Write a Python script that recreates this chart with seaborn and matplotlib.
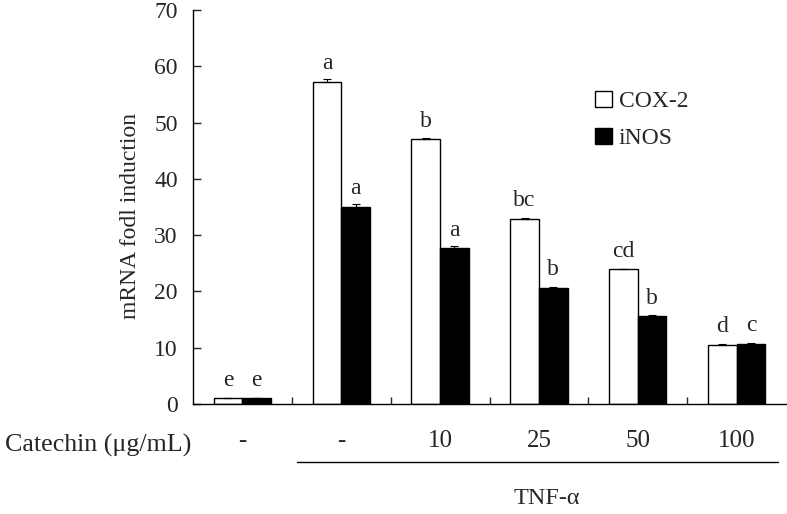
import numpy as np
import pandas as pd
import matplotlib
matplotlib.use("Agg")
import matplotlib.pyplot as plt
import seaborn as sns
from matplotlib.lines import Line2D

# --- Datos ---
groups = [0, 1, 2, 3, 4, 5]
dose_labels = ["-", "-", "10", "25", "50", "100"]
cox2 = [1.0, 57.2, 47.0, 32.9, 23.9, 10.5]
inos = [1.0, 35.0, 27.7, 20.6, 15.6, 10.7]
cox2_err = [0.1, 0.5, 0.2, 0.1, 0.1, 0.1]
inos_err = [0.1, 0.5, 0.4, 0.2, 0.2, 0.1]
cox2_letters = ["e", "a", "b", "bc", "cd", "d"]
inos_letters = ["e", "a", "a", "b", "b", "c"]
genes = ["COX-2", "iNOS"]

df = pd.DataFrame({
    "group": groups * 2,
    "gene": [genes[0]] * 6 + [genes[1]] * 6,
    "value": cox2 + inos,
})

sns.set_style("ticks")
plt.rcParams["font.family"] = ["Liberation Serif", "DejaVu Serif"]
plt.rcParams["font.size"] = 17

fig = plt.figure(figsize=(7.87, 5.14), dpi=100)
ax = fig.add_axes([193 / 787, 1 - 404 / 514, 593 / 787, 394 / 514])

sns.barplot(data=df, x="group", y="value", hue="gene", hue_order=genes,
            palette={"COX-2": "white", "iNOS": "black"}, edgecolor="black",
            linewidth=1.0, width=0.58, gap=0, errorbar=None, ax=ax)

# barras de error y letras
errs = [cox2_err, inos_err]
letters = [cox2_letters, inos_letters]
bar_sets = list(ax.containers)
for k, cont in enumerate(bar_sets):
    xs = [b.get_x() + b.get_width() / 2 for b in cont]
    hs = [b.get_height() for b in cont]
    ax.errorbar(xs, hs, yerr=[np.zeros(len(hs)), errs[k]], fmt="none",
                ecolor="black", elinewidth=0.8, capsize=2.8, capthick=0.8)
    for x, h, lab in zip(xs, hs, letters[k]):
        ax.annotate(lab, (x, h), xytext=(0, 13), textcoords="offset points",
                    ha="center", va="center", fontsize=17)

ax.set_xlim(-0.5, 5.5)
ax.set_ylim(0, 70)
ax.set_yticks(range(0, 71, 10))
ax.set_xticks(groups)
ax.set_xticklabels(dose_labels, fontsize=18)
ax.set_xticks([0.5, 1.5, 2.5, 3.5, 4.5], minor=True)
ax.tick_params(axis="x", which="major", length=0, pad=19)
ax.tick_params(axis="x", which="minor", direction="in", length=5, width=1)
ax.tick_params(axis="y", direction="in", length=6, width=1, pad=11, labelsize=17)
ax.set_xlabel("")
ax.set_ylabel("mRNA fodl induction", fontsize=17)
ax.yaxis.set_label_coords(-0.088, 0.477)
for s in ["top", "right"]:
    ax.spines[s].set_visible(False)
for s in ["left", "bottom"]:
    ax.spines[s].set_linewidth(1.0)
    ax.spines[s].set_color("black")

ax.legend(frameon=False, loc="center left", bbox_to_anchor=(595 / 787, 1 - 120 / 514),
          bbox_transform=fig.transFigure, handlelength=0.7, handleheight=0.7,
          handletextpad=0.3, labelspacing=0.65, borderpad=0, borderaxespad=0,
          fontsize=17)

fig.text(5 / 787, 1 - 445 / 514, "Catechin (μg/mL)", ha="left", va="center", fontsize=18.7)
fig.add_artist(Line2D([297 / 787, 778 / 787], [1 - 462 / 514] * 2, color="black", lw=1.0))
fig.text(547 / 787, 1 - 499 / 514, "TNF-α", ha="center", va="center", fontsize=17.5)

fig.savefig("out.png", dpi=100)
